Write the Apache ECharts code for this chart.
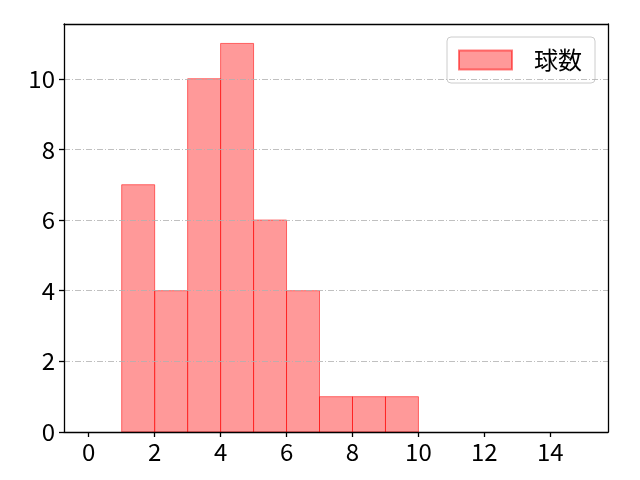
<!DOCTYPE html>
<html><head><meta charset="utf-8">
<script src="https://cdn.jsdelivr.net/npm/echarts@6/dist/echarts.min.js"></script>
<style>html,body{margin:0;padding:0;background:#fff}#c{width:640px;height:480px}</style>
</head><body><div id="c"></div>
<script>
const binStarts = [1,2,3,4,5,6,7,8,9];
const binEnds = [2,3,4,5,6,7,8,9,10];
const counts = [7,4,10,11,6,4,1,1,1];
const xTicks = [0,2,4,6,8,10,12,14];
const seriesName = '球数';

const data = binStarts.map((s,i)=>[s, binEnds[i], counts[i]]);
const chart = echarts.init(document.getElementById('c'));
const font = '"Noto Sans CJK JP", "DejaVu Sans", sans-serif';
const fs = 24;
const frameAxis = {show:true,z:5,axisLine:{show:true,onZero:false,lineStyle:{color:'#000',width:1.3}},
  axisTick:{show:false},axisLabel:{show:false},splitLine:{show:false}};
chart.setOption({
  animation:false,
  grid:{left:64,right:32,top:24,bottom:48,show:false},
  legend:{show:true,right:45,top:37,orient:'vertical',data:[{name:seriesName,icon:'rect'}],
    itemWidth:53,itemHeight:19,itemGap:0,padding:[10,13,10,11],
    borderColor:'#cccccc',borderWidth:1,borderRadius:4,
    textStyle:{fontSize:fs,fontFamily:font,color:'#000',padding:[0,0,0,17],lineHeight:26}},
  xAxis:[{type:'value',min:-0.75,max:15.75,z:5,
    axisLine:{show:true,onZero:false,lineStyle:{color:'#000',width:1.3}},
    axisTick:{show:true,inside:false,length:5,lineStyle:{color:'#000',width:1.3},customValues:xTicks},
    axisLabel:{customValues:xTicks,fontSize:fs,fontFamily:font,color:'#000',margin:8},
    splitLine:{show:false}},
    Object.assign({type:'value',position:'top',min:-0.75,max:15.75},frameAxis)],
  yAxis:[{type:'value',min:0,max:11.55,interval:2,z:5,
    axisLine:{show:true,onZero:false,lineStyle:{color:'#000',width:1.3}},
    axisTick:{show:true,inside:false,length:5,lineStyle:{color:'#000',width:1.3}},
    axisLabel:{fontSize:fs,fontFamily:font,color:'#000',margin:9,showMaxLabel:false},
    splitLine:{show:true,showMaxLine:false,lineStyle:{color:'#b0b0b0',width:0.8,type:[6,2,1,2]}}},
    Object.assign({type:'value',position:'right',min:0,max:11.55},frameAxis)],
  series:[{
    type:'custom',name:seriesName,xAxisIndex:0,yAxisIndex:0,
    itemStyle:{color:'rgba(255,0,0,0.4)',borderColor:'rgba(255,0,0,0.5)',borderWidth:1},
    renderItem:function(params,api){
      const p0 = api.coord([api.value(0), api.value(2)]);
      const p1 = api.coord([api.value(1), 0]);
      return {type:'rect',shape:{x:p0[0],y:p0[1],width:p1[0]-p0[0],height:p1[1]-p0[1]},
        style:{fill:'rgba(255,0,0,0.4)',stroke:'rgba(255,0,0,0.55)',lineWidth:1}};
    },
    encode:{x:[0,1],y:2},
    data:data
  }]
});
</script></body></html>
